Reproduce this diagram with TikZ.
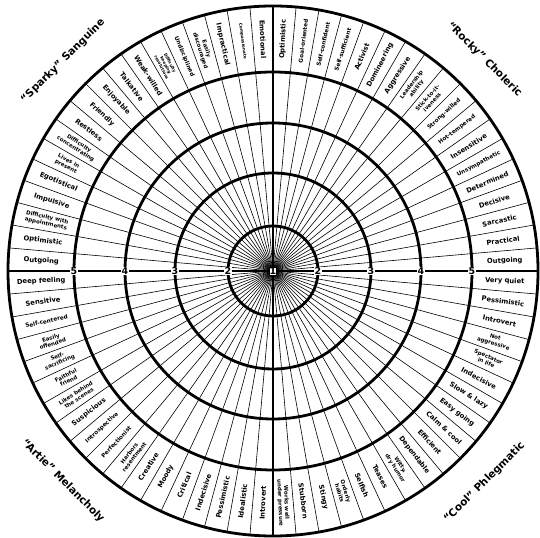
\documentclass[tikz,border=0pt]{standalone}
\usepackage{fontspec}
\setmainfont{DejaVu Sans}

\tikzset{
  ring/.style={line width=2.8bp},
  spoke/.style={line width=0.6bp},
  axis/.style={line width=1.4bp},
  lblA/.style={font=\bfseries\fontsize{6.8}{8}\selectfont, align=center, inner sep=0pt},
  lblS/.style={font=\bfseries\fontsize{5.7}{6.6}\selectfont, align=center, inner sep=0pt},
  lblB/.style={font=\bfseries\fontsize{5.5}{6.3}\selectfont, align=center, inner sep=0pt},
  lblC/.style={font=\bfseries\fontsize{4.2}{4.8}\selectfont, align=center, inner sep=0pt},
  numlbl/.style={font=\bfseries\fontsize{9.5}{10}\selectfont, fill=white, inner sep=0.6bp},
  quadtitle/.style={font=\bfseries\fontsize{10.5}{12}\selectfont}
}

\begin{document}
\begin{tikzpicture}[x=1bp, y=1bp]
  \useasboundingbox (0,0) rectangle (540,538);
  \coordinate (c) at (273,267);

  % spokes, one every 5 degrees
  \foreach \a in {0,5,...,355}
    \draw[spoke] (c) -- ++(\a:265);

  % the two axes
  \coordinate (w) at ([xshift=-265bp]c);
  \coordinate (e) at ([xshift=265bp]c);
  \coordinate (n) at ([yshift=265bp]c);
  \coordinate (s) at ([yshift=-265bp]c);
  \draw[axis] (w) -- (e);
  \draw[axis] (n) -- (s);

  % rings
  \foreach \r in {45,98,148,199,265}
    \draw[ring] (c) circle[radius=\r bp];

  % scale numbers
  \foreach \r/\n in {45/2,98/3,148/4,199/5} {
    \node[numlbl] (L\n) at ([xshift=-\r bp]c) {\n};
    \node[numlbl] (R\n) at ([xshift=\r bp]c) {\n};
  }
  \node[numlbl, draw, line width=0.8bp] (one) at (c) {1};

  % traits, counterclockwise from the east axis
  \foreach \lab/\sty [count=\k from 0] in {
      Outgoing/lblA, Practical/lblA, Sarcastic/lblA, Decisive/lblA,
      Determined/lblA, Unsympathetic/lblS, Insensitive/lblA, Hot-tempered/lblS,
      Strong-willed/lblS, Stick-to-it-\\iveness/lblB, Leadership\\ability/lblB,
      Aggressive/lblA, Domineering/lblA, Activist/lblA, Self-sufficient/lblS,
      Self-confident/lblS, Goal-oriented/lblS, Optimistic/lblA,
      Emotional/lblA, Compassionate/lblC, Impractical/lblA, Easily\\discouraged/lblB,
      Undisciplined/lblS, Difficulty\\keeping\\resolutions/lblC, Weak-willed/lblA,
      Talkative/lblA, Enjoyable/lblA, Friendly/lblA, Restless/lblA,
      Difficulty\\concentrating/lblB, Lives in\\present/lblB, Egotistical/lblA,
      Impulsive/lblA, Difficulty with\\appointments/lblB, Optimistic/lblA, Outgoing/lblA,
      Deep feeling/lblA, Sensitive/lblA, Self-centered/lblS, Easily\\offended/lblB,
      Self-\\sacrificing/lblB, Faithful\\friend/lblB, Likes behind\\the scenes/lblB,
      Suspicious/lblA, Introspective/lblS, Perfectionist/lblS, Harbors\\resentment/lblB,
      Creative/lblA, Moody/lblA, Critical/lblA, Indecisive/lblA, Pessimistic/lblA,
      Idealistic/lblA, Introvert/lblA,
      Works well\\under pressure/lblB, Stubborn/lblA, Stingy/lblA, Orderly\\habits/lblB,
      Selfish/lblA, Teases/lblA, {Witty,\\dry humor}/lblB, Dependable/lblA,
      Efficient/lblA, Calm \& cool/lblA, Easy going/lblA, Slow \& lazy/lblA,
      Indecisive/lblA, Spectator\\in life/lblB, Not\\aggressive/lblB, Introvert/lblA,
      Pessimistic/lblA, Very quiet/lblA} {
    \pgfmathsetmacro\ang{2.5+5*\k}
    \pgfmathsetmacro\rot{(\ang>90 && \ang<270) ? \ang-180 : \ang}
    \node[\sty, rotate=\rot] (t\k) at ([shift={(\ang:232)}]c) {\lab};
  }

  % temperament names
  \node[quadtitle, rotate=45]  (sanguine)   at ([shift={(135:297)}]c) {``Sparky'' Sanguine};
  \node[quadtitle, rotate=-45] (choleric)   at ([shift={(45:299)}]c)  {``Rocky'' Choleric};
  \node[quadtitle, rotate=-45] (melancholy) at ([shift={(225:297)}]c) {``Artie'' Melancholy};
  \node[quadtitle, rotate=45]  (phlegmatic) at ([shift={(315:299)}]c) {``Cool'' Phlegmatic};
\end{tikzpicture}
\end{document}
